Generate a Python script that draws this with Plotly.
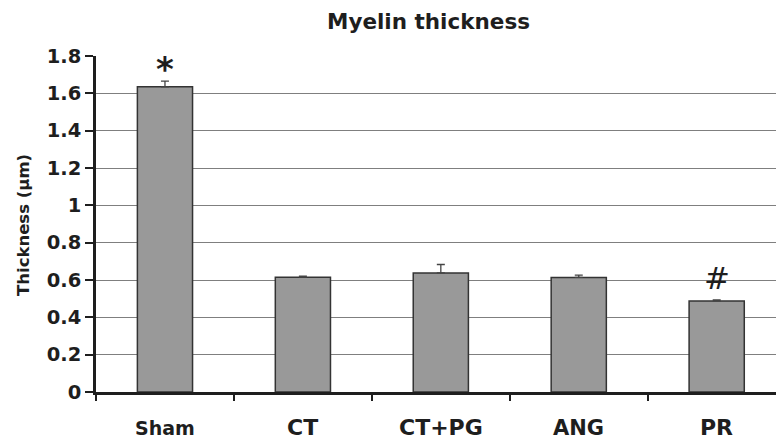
import plotly.graph_objects as go

categories = ["Sham", "CT", "CT+PG", "ANG", "PR"]
values = [1.635, 0.615, 0.638, 0.614, 0.488]
errors_up = [0.03, 0.006, 0.045, 0.012, 0.006]
markers = ["*", "", "", "", "#"]
label_sizes = [19, 22, 22, 21, 22]
y_ticks = [0, 0.2, 0.4, 0.6, 0.8, 1, 1.2, 1.4, 1.6, 1.8]

FONT = "DejaVu Sans, sans-serif"
INK = "#1e1e1e"

fig = go.Figure()
fig.add_trace(go.Bar(
    x=categories, y=values, width=0.4,
    marker=dict(color="#999999", line=dict(color="#333333", width=1.5)),
    error_y=dict(type="data", array=errors_up, arrayminus=[0]*len(values),
                 symmetric=False, color="#444444", thickness=1.3, width=4),
))

# significance markers
for c, v, e, m in zip(categories, values, errors_up, markers):
    if m == "*":
        fig.add_annotation(x=c, y=v + e, text="*", showarrow=False, yanchor="middle",
                           yshift=12, font=dict(family=FONT, size=34, color=INK, weight="bold"))
    elif m == "#":
        fig.add_annotation(x=c, y=v + e, text="#", showarrow=False, yanchor="middle",
                           yshift=22, font=dict(family=FONT, size=31, color=INK))

# category labels
for c, s in zip(categories, label_sizes):
    fig.add_annotation(x=c, y=-0.107, yref="paper", text=c, showarrow=False,
                       yanchor="middle", font=dict(family=FONT, size=s, color=INK, weight="bold"))

# title
fig.add_annotation(x=(428 - 96) / 680, xref="paper", y=1 + 34 / 336, yref="paper",
                   text="Myelin thickness", showarrow=False, yanchor="middle", xanchor="center",
                   font=dict(family=FONT, size=21.5, color=INK, weight="bold"))

# y title
fig.add_annotation(x=-73 / 680, xref="paper", y=(392 - 225) / 336, yref="paper",
                   text="Thickness (µm)", showarrow=False, textangle=-90,
                   xanchor="center", yanchor="middle",
                   font=dict(family=FONT, size=16.5, color=INK, weight="bold"))

fig.update_layout(
    width=776, height=441,
    margin=dict(l=96, r=0, t=56, b=49, autoexpand=False),
    paper_bgcolor="white", plot_bgcolor="white",
    showlegend=False,
    xaxis=dict(
        type="category", range=[-0.5, 4.43], automargin=False,
        tickmode="array", tickvals=categories, showticklabels=False,
        tickson="boundaries", ticks="outside", ticklen=6, tickwidth=2, tickcolor=INK,
        showline=True, linecolor=INK, linewidth=2.5, showgrid=False,
    ),
    yaxis=dict(
        range=[0, 1.8], tickmode="array", tickvals=y_ticks, automargin=False,
        ticktext=[str(t) for t in y_ticks],
        ticks="outside", ticklen=8, tickwidth=2, tickcolor=INK,
        showline=True, linecolor=INK, linewidth=2.5,
        showgrid=True, gridcolor="#7f7f7f", gridwidth=1.4,
        tickfont=dict(family=FONT, size=19.5, color=INK, weight="bold"),
        zeroline=False,
    ),
)

fig.write_html("out.html", config={"displayModeBar": False},
               post_script="document.body.style.margin='0';document.body.style.overflow='hidden';")
